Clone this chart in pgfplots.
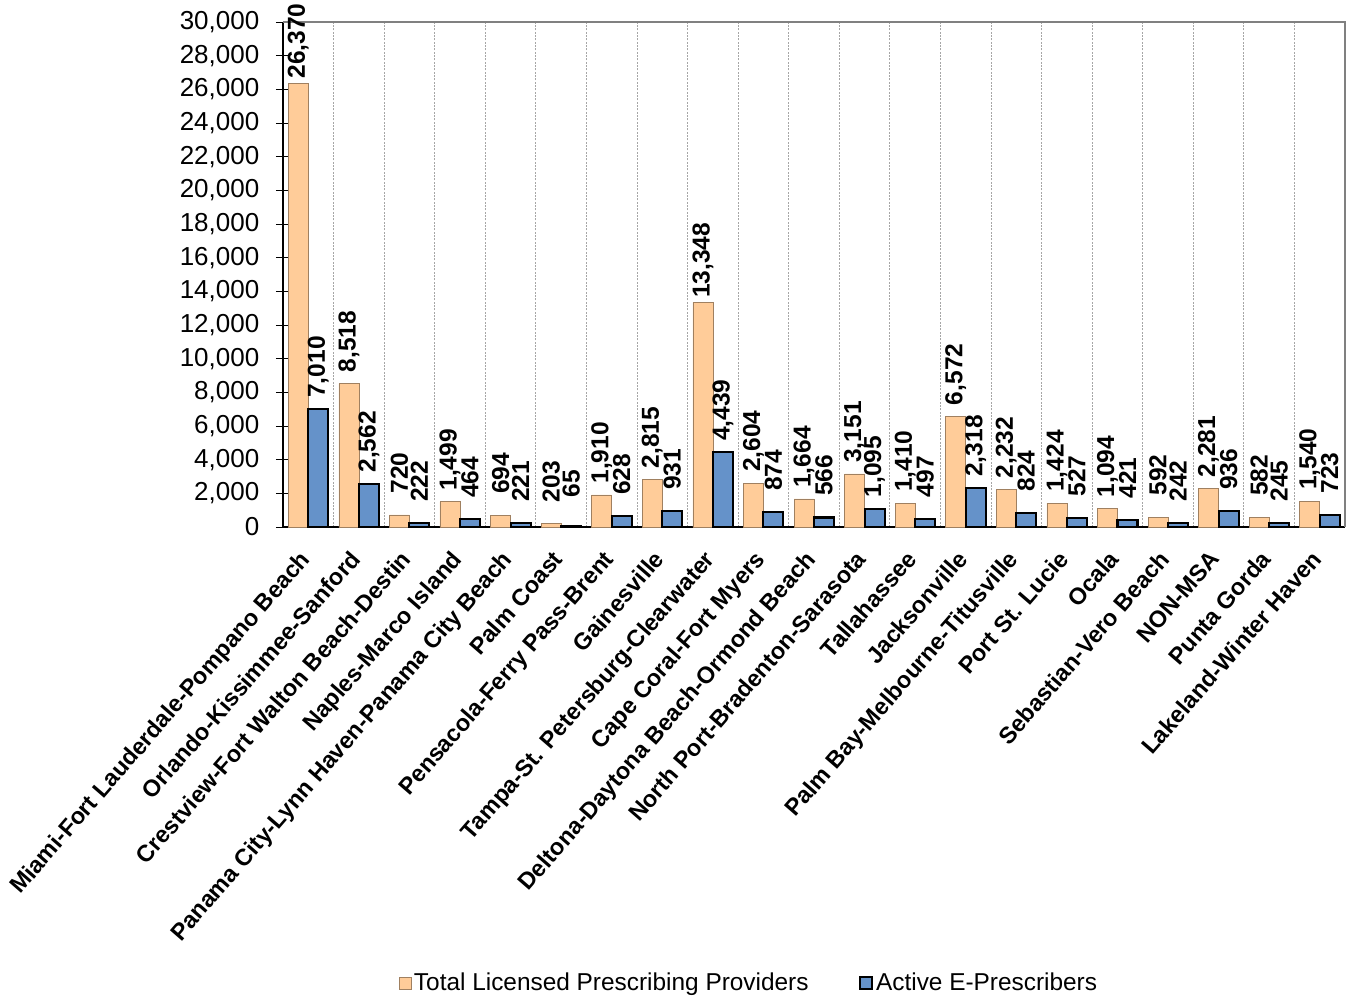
\documentclass[border=0pt]{standalone}
\usepackage{fontspec}
\setmainfont{Liberation Sans}
\usepackage{pgfplots}
\pgfplotsset{compat=1.18}
\definecolor{orangebar}{HTML}{FFCC99}
\definecolor{orangeedge}{HTML}{A08060}
\definecolor{bluebar}{HTML}{6592C9}
\begin{document}
\begin{tikzpicture}
\begin{axis}[
  scale only axis,
  width=796.5pt, height=378.75pt,
  ybar=0pt, bar width=15pt,
  xmin=0.5, xmax=21.5,
  ymin=0, ymax=30000,
  xtick={1,...,21},
  xticklabels={Miami-Fort Lauderdale-Pompano Beach,Orlando-Kissimmee-Sanford,Crestview-Fort Walton Beach-Destin,Naples-Marco Island,Panama City-Lynn Haven-Panama City Beach,Palm Coast,Pensacola-Ferry Pass-Brent,Gainesville,Tampa-St. Petersburg-Clearwater,Cape Coral-Fort Myers,Deltona-Daytona Beach-Ormond Beach,North Port-Bradenton-Sarasota,Tallahassee,Jacksonville,Palm Bay-Melbourne-Titusville,Port St. Lucie,Ocala,Sebastian-Vero Beach,NON-MSA,Punta Gorda,Lakeland-Winter Haven},
  x tick label style={font=\fontsize{17.6}{18}\selectfont\bfseries, yshift=-11pt, xshift=-7.5pt, rotate=49, anchor=north east, inner sep=0pt},
  minor xtick={1.5,2.5,...,20.5},
  xminorgrids,
  minor grid style={gray!70, dash pattern=on 1.5pt off 1pt, line width=0.6pt},
  major x tick style={draw=none},
  minor x tick style={draw=none},
  ytick={0,2000,...,30000},
  ytick pos=left,
  tick align=center,
  major tick length=10.5pt,
  y tick label style={font=\fontsize{19.5}{20}\selectfont, xshift=-9pt},
  scaled y ticks=false,
  yticklabel style={/pgf/number format/.cd, fixed, precision=0, 1000 sep={,}, assume math mode=true},
  axis lines*=left,
  axis line style={black, line width=0.8pt},
  tick style={black, line width=0.6pt},
  nodes near coords,
  point meta=y,
  every node near coord/.append style={font=\fontsize{18.4}{19}\selectfont\bfseries, /pgf/number format/.cd, fixed, precision=0, 1000 sep={,}, assume math mode=true, /tikz/.cd, yshift=31.5pt, rotate=90, anchor=center, inner sep=0pt},
  legend style={at={(0.439,-0.903)}, anchor=center, legend columns=2, draw=none, font=\fontsize{18.3}{19}\selectfont, /tikz/every even column/.append style={column sep=36pt}},
  legend image code/.code={\draw[#1, bar shift=0pt] (0pt,-4.5pt) rectangle (9pt,4.5pt);},
  clip=false,
]
\addplot[fill=orangebar, draw=orangeedge, line width=0.5pt] coordinates {
(1,26370) (2,8518) (3,720) (4,1499) (5,694) (6,203) (7,1910) (8,2815) (9,13348) (10,2604) (11,1664) (12,3151) (13,1410) (14,6572) (15,2232) (16,1424) (17,1094) (18,592) (19,2281) (20,582) (21,1540)};
\addplot[fill=bluebar, draw=black, line width=1.6pt] coordinates {
(1,7010) (2,2562) (3,222) (4,464) (5,221) (6,65) (7,628) (8,931) (9,4439) (10,874) (11,566) (12,1095) (13,497) (14,2318) (15,824) (16,527) (17,421) (18,242) (19,936) (20,245) (21,723)};
\legend{Total Licensed Prescribing Providers, Active E-Prescribers}
\draw[gray, line width=1.5pt] (rel axis cs:0,1) -- (rel axis cs:1,1) -- (rel axis cs:1,0);
\coordinate (SW) at (rel axis cs:0,0);
\coordinate (NE) at (rel axis cs:1,1);
\end{axis}
\pgfresetboundingbox
\useasboundingbox ([shift={(-212.25pt,-353.25pt)}]SW) rectangle ([shift={(4.5pt,16.5pt)}]NE);
\end{tikzpicture}
\end{document}
